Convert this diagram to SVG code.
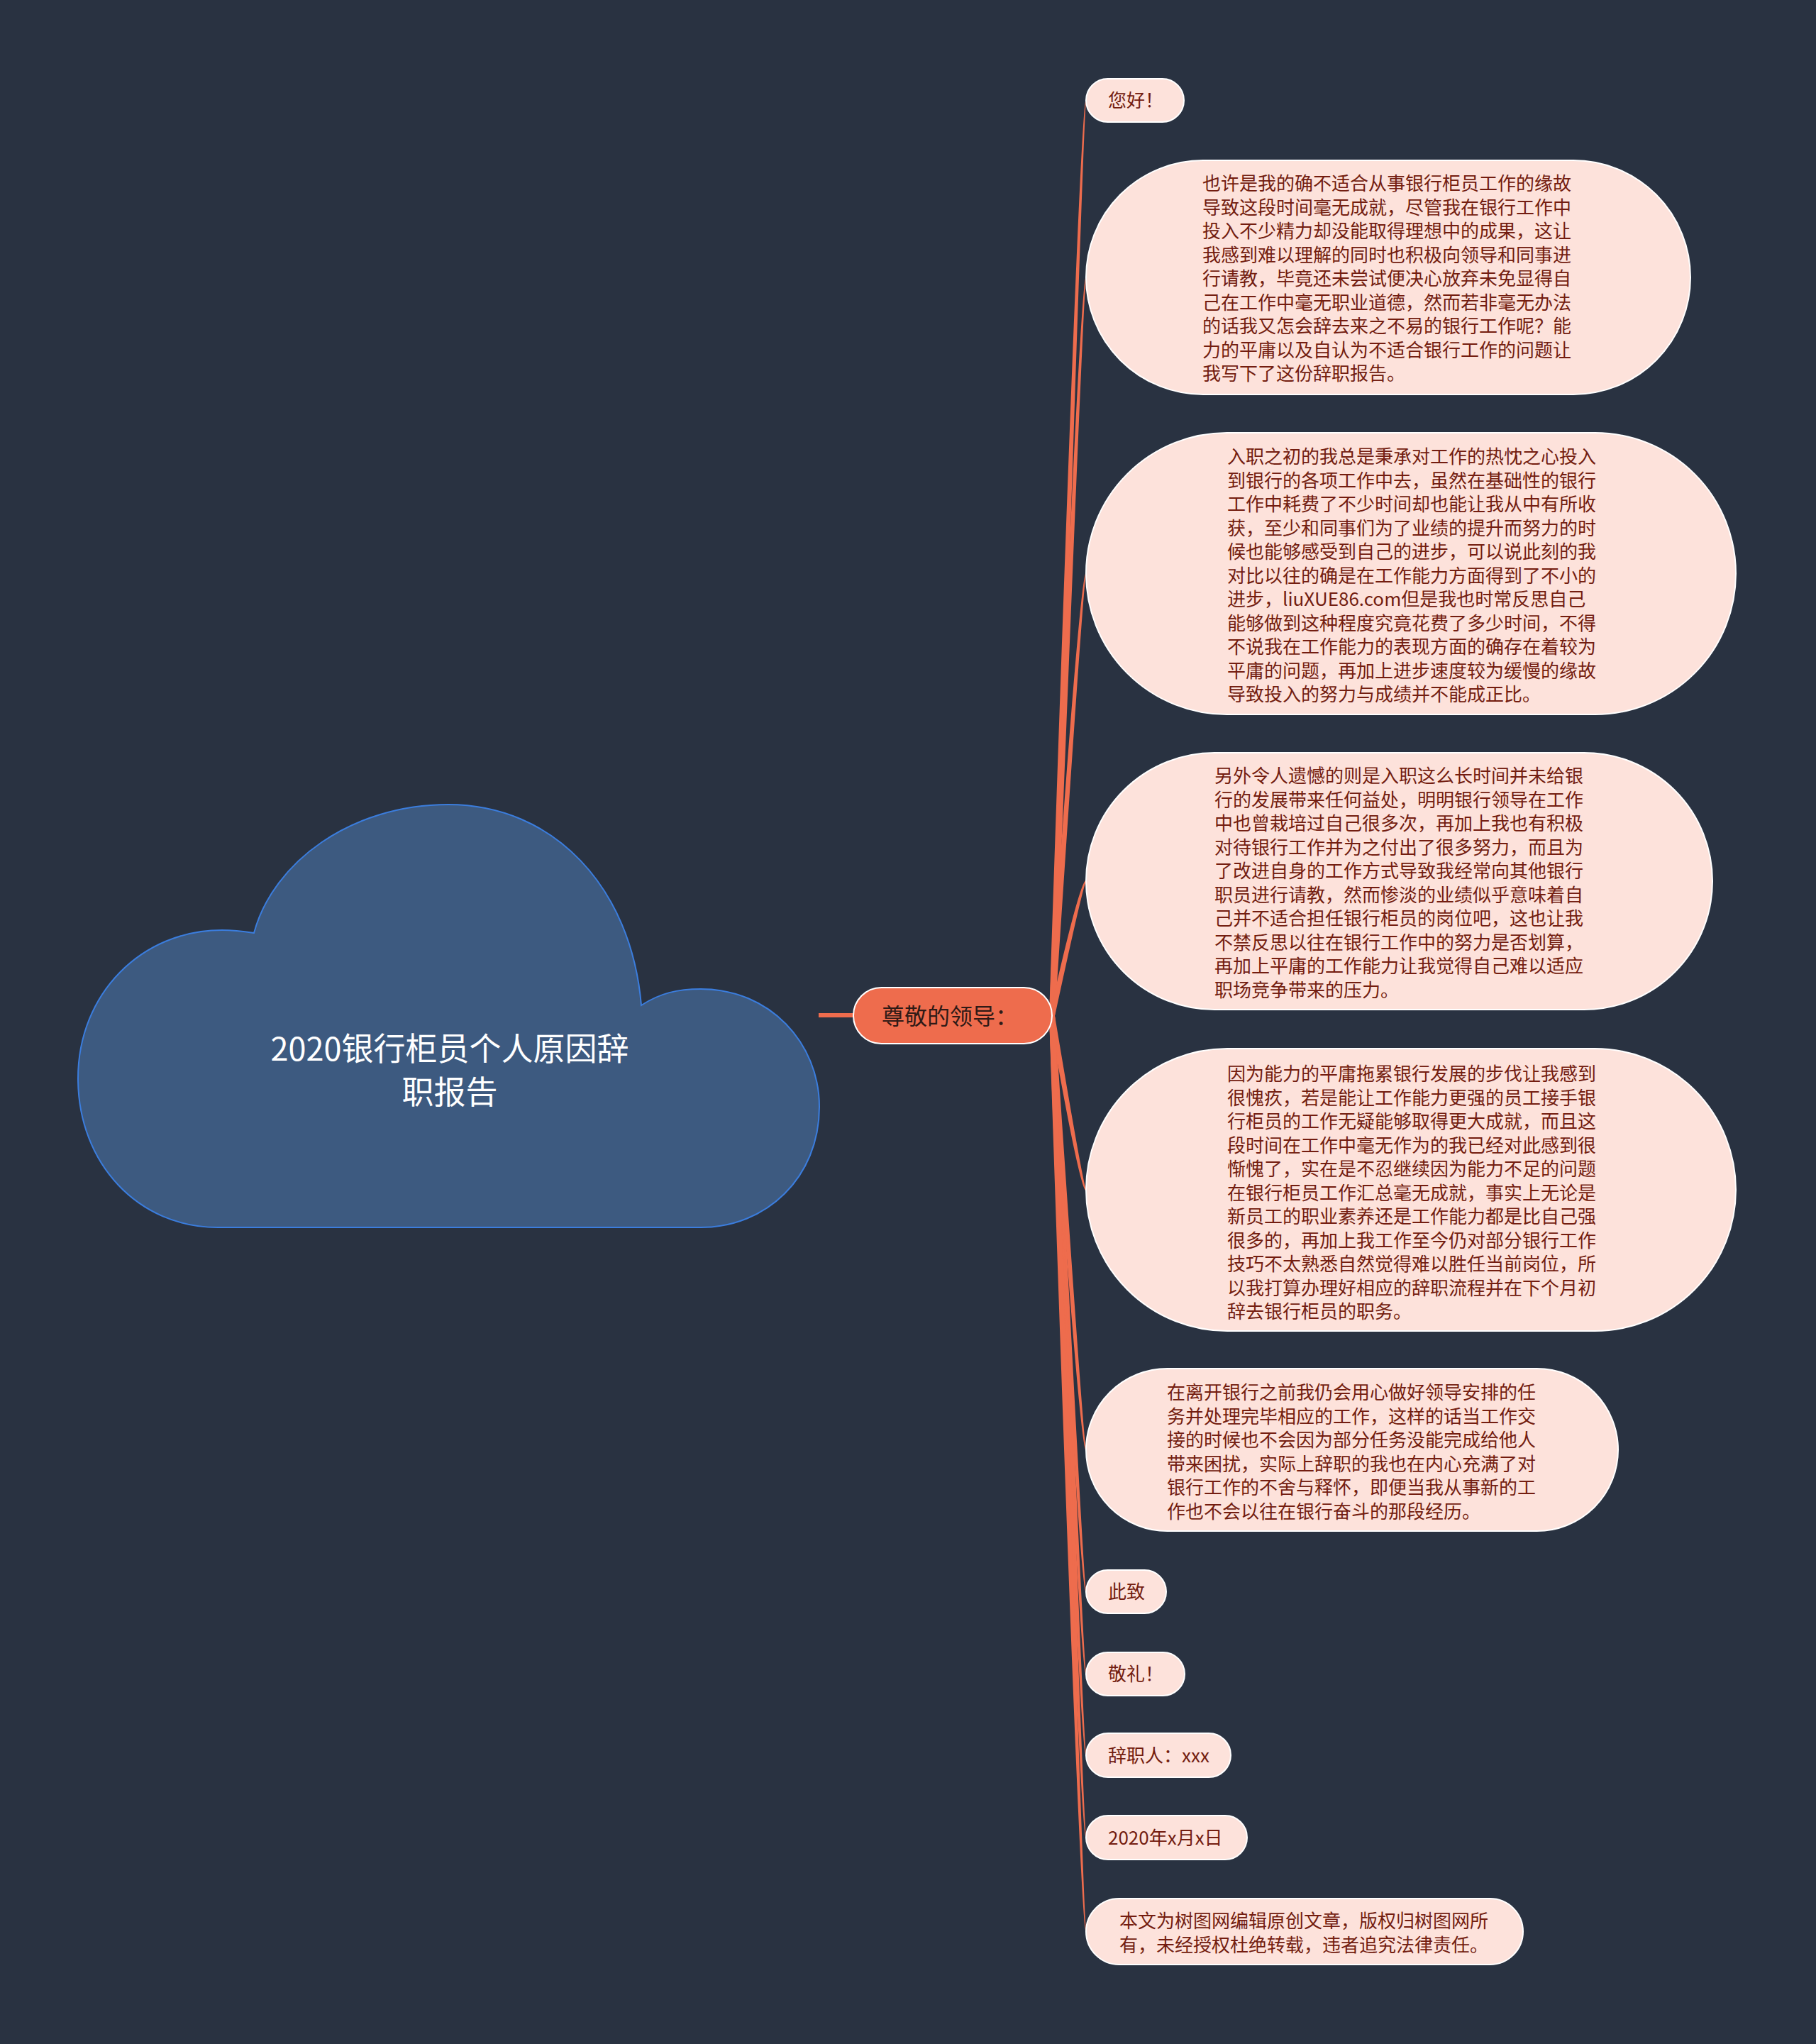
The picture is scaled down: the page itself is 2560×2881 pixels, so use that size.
<svg xmlns="http://www.w3.org/2000/svg" width="2560" height="2881" viewBox="0 0 2560 2881">
<style>
.bg{fill:#293241}
.leaf{fill:#fde2db;stroke:#ffffff;stroke-width:2}
.lt{font-family:"Noto Sans CJK SC","Noto Sans",sans-serif;font-size:26px;fill:#731d10}
.link{fill:#ee6c4d}
.main{fill:#ee6c4d;stroke:#ffffff;stroke-width:2}
.mt{font-family:"Noto Sans CJK SC","Noto Sans",sans-serif;font-size:32px;fill:#2f1a16}
.root{fill:#3d5a80;stroke:#3b7ddd;stroke-width:2}
.rt{font-family:"Noto Sans CJK SC","Noto Sans",sans-serif;font-size:45px;fill:#ffffff;text-anchor:middle}
</style>
<rect class="bg" x="0" y="0" width="2560" height="2881"/>
<g id="connectors">
<line x1="1154" y1="1431" x2="1206" y2="1431" stroke="#ee6c4d" stroke-width="6"/>
<path class="link" d="M1479 1432Q1522 141.5 1531 140Q1531 141.5 1531 143Q1528 141.5 1487 1432Z"/>
<path class="link" d="M1479 1432Q1522 391 1531 389.5L1531 392.5Q1528 391 1487 1432Z"/>
<path class="link" d="M1479 1432Q1522 808.5 1531 807L1531 810Q1528 808.5 1487 1432Z"/>
<path class="link" d="M1479 1432Q1522 1242 1531 1240.5L1531 1243.5Q1528 1242 1487 1432Z"/>
<path class="link" d="M1479 1432Q1522 1677 1531 1678.5L1531 1675.5Q1528 1677 1487 1432Z"/>
<path class="link" d="M1479 1432Q1522 2043.5 1531 2045L1531 2042Q1528 2043.5 1487 1432Z"/>
<path class="link" d="M1479 1432Q1522 2243.5 1531 2245L1531 2242Q1528 2243.5 1487 1432Z"/>
<path class="link" d="M1479 1432Q1522 2359.5 1531 2361L1531 2358Q1528 2359.5 1487 1432Z"/>
<path class="link" d="M1479 1432Q1522 2474 1531 2475.5L1531 2472.5Q1528 2474 1487 1432Z"/>
<path class="link" d="M1479 1432Q1522 2590 1531 2591.5L1531 2588.5Q1528 2590 1487 1432Z"/>
<path class="link" d="M1479 1432Q1522 2722.5 1531 2724L1531 2721Q1528 2722.5 1487 1432Z"/>
</g>
<g id="root">
<path class="root" d="M358 1315C385 1215 495 1134 632 1134C780 1134 890 1250 904 1417C930 1400 955 1394 988 1394C1085 1394 1155 1470 1155 1560C1155 1660 1080 1730 988 1730L307 1730C195 1730 110 1640 110 1520C110 1400 200 1311 313 1311C330 1311 345 1313 358 1315Z"/>
<text class="rt" x="634" y="1495">2020银行柜员个人原因辞</text>
<text class="rt" x="634" y="1556">职报告</text>
</g>
<g id="main">
<rect class="main" x="1203" y="1392" width="280" height="79" rx="39.5"/>
<text class="mt" x="1243" y="1444">尊敬的领导：</text>
</g>
<g id="n1">
<rect class="leaf" x="1531" y="111" width="138" height="61" rx="30.5"/>
<text class="lt" x="1562" y="151">您好！</text>
</g>
<g id="n2">
<rect class="leaf" x="1531" y="226" width="852" height="330" rx="165"/>
<text class="lt" x="1695">
<tspan x="1695" y="268">也许是我的确不适合从事银行柜员工作的缘故</tspan>
<tspan x="1695" y="301.5">导致这段时间毫无成就，尽管我在银行工作中</tspan>
<tspan x="1695" y="335">投入不少精力却没能取得理想中的成果，这让</tspan>
<tspan x="1695" y="368.5">我感到难以理解的同时也积极向领导和同事进</tspan>
<tspan x="1695" y="402">行请教，毕竟还未尝试便决心放弃未免显得自</tspan>
<tspan x="1695" y="435.5">己在工作中毫无职业道德，然而若非毫无办法</tspan>
<tspan x="1695" y="469">的话我又怎会辞去来之不易的银行工作呢？能</tspan>
<tspan x="1695" y="502.5">力的平庸以及自认为不适合银行工作的问题让</tspan>
<tspan x="1695" y="536">我写下了这份辞职报告。</tspan>
</text>
</g>
<g id="n3">
<rect class="leaf" x="1531" y="610" width="916" height="397" rx="198.5"/>
<text class="lt" x="1730">
<tspan x="1730" y="653">入职之初的我总是秉承对工作的热忱之心投入</tspan>
<tspan x="1730" y="686.5">到银行的各项工作中去，虽然在基础性的银行</tspan>
<tspan x="1730" y="720">工作中耗费了不少时间却也能让我从中有所收</tspan>
<tspan x="1730" y="753.5">获，至少和同事们为了业绩的提升而努力的时</tspan>
<tspan x="1730" y="787">候也能够感受到自己的进步，可以说此刻的我</tspan>
<tspan x="1730" y="820.5">对比以往的确是在工作能力方面得到了不小的</tspan>
<tspan x="1730" y="854">进步，liuXUE86.com但是我也时常反思自己</tspan>
<tspan x="1730" y="887.5">能够做到这种程度究竟花费了多少时间，不得</tspan>
<tspan x="1730" y="921">不说我在工作能力的表现方面的确存在着较为</tspan>
<tspan x="1730" y="954.5">平庸的问题，再加上进步速度较为缓慢的缘故</tspan>
<tspan x="1730" y="988">导致投入的努力与成绩并不能成正比。</tspan>
</text>
</g>
<g id="n4">
<rect class="leaf" x="1531" y="1061" width="883" height="362" rx="181"/>
<text class="lt" x="1712">
<tspan x="1712" y="1103">另外令人遗憾的则是入职这么长时间并未给银</tspan>
<tspan x="1712" y="1136.5">行的发展带来任何益处，明明银行领导在工作</tspan>
<tspan x="1712" y="1170">中也曾栽培过自己很多次，再加上我也有积极</tspan>
<tspan x="1712" y="1203.5">对待银行工作并为之付出了很多努力，而且为</tspan>
<tspan x="1712" y="1237">了改进自身的工作方式导致我经常向其他银行</tspan>
<tspan x="1712" y="1270.5">职员进行请教，然而惨淡的业绩似乎意味着自</tspan>
<tspan x="1712" y="1304">己并不适合担任银行柜员的岗位吧，这也让我</tspan>
<tspan x="1712" y="1337.5">不禁反思以往在银行工作中的努力是否划算，</tspan>
<tspan x="1712" y="1371">再加上平庸的工作能力让我觉得自己难以适应</tspan>
<tspan x="1712" y="1404.5">职场竞争带来的压力。</tspan>
</text>
</g>
<g id="n5">
<rect class="leaf" x="1531" y="1478" width="916" height="398" rx="199"/>
<text class="lt" x="1730">
<tspan x="1730" y="1523">因为能力的平庸拖累银行发展的步伐让我感到</tspan>
<tspan x="1730" y="1556.5">很愧疚，若是能让工作能力更强的员工接手银</tspan>
<tspan x="1730" y="1590">行柜员的工作无疑能够取得更大成就，而且这</tspan>
<tspan x="1730" y="1623.5">段时间在工作中毫无作为的我已经对此感到很</tspan>
<tspan x="1730" y="1657">惭愧了，实在是不忍继续因为能力不足的问题</tspan>
<tspan x="1730" y="1690.5">在银行柜员工作汇总毫无成就，事实上无论是</tspan>
<tspan x="1730" y="1724">新员工的职业素养还是工作能力都是比自己强</tspan>
<tspan x="1730" y="1757.5">很多的，再加上我工作至今仍对部分银行工作</tspan>
<tspan x="1730" y="1791">技巧不太熟悉自然觉得难以胜任当前岗位，所</tspan>
<tspan x="1730" y="1824.5">以我打算办理好相应的辞职流程并在下个月初</tspan>
<tspan x="1730" y="1858">辞去银行柜员的职务。</tspan>
</text>
</g>
<g id="n6">
<rect class="leaf" x="1531" y="1929" width="750" height="229" rx="114.5"/>
<text class="lt" x="1645">
<tspan x="1645" y="1972">在离开银行之前我仍会用心做好领导安排的任</tspan>
<tspan x="1645" y="2005.5">务并处理完毕相应的工作，这样的话当工作交</tspan>
<tspan x="1645" y="2039">接的时候也不会因为部分任务没能完成给他人</tspan>
<tspan x="1645" y="2072.5">带来困扰，实际上辞职的我也在内心充满了对</tspan>
<tspan x="1645" y="2106">银行工作的不舍与释怀，即便当我从事新的工</tspan>
<tspan x="1645" y="2139.5">作也不会以往在银行奋斗的那段经历。</tspan>
</text>
</g>
<g id="n7">
<rect class="leaf" x="1531" y="2213" width="113" height="61" rx="30.5"/>
<text class="lt" x="1562" y="2253">此致</text>
</g>
<g id="n8">
<rect class="leaf" x="1531" y="2329" width="139" height="61" rx="30.5"/>
<text class="lt" x="1562" y="2369">敬礼！</text>
</g>
<g id="n9">
<rect class="leaf" x="1531" y="2443" width="204" height="62" rx="31"/>
<text class="lt" x="1562" y="2484">辞职人：xxx</text>
</g>
<g id="n10">
<rect class="leaf" x="1531" y="2559" width="227" height="62" rx="31"/>
<text class="lt" x="1562" y="2600">2020年x月x日</text>
</g>
<g id="n11">
<rect class="leaf" x="1531" y="2676" width="616" height="93" rx="46.5"/>
<text class="lt" x="1578">
<tspan x="1578" y="2717">本文为树图网编辑原创文章，版权归树图网所</tspan>
<tspan x="1578" y="2750.5">有，未经授权杜绝转载，违者追究法律责任。</tspan>
</text>
</g>
</svg>
